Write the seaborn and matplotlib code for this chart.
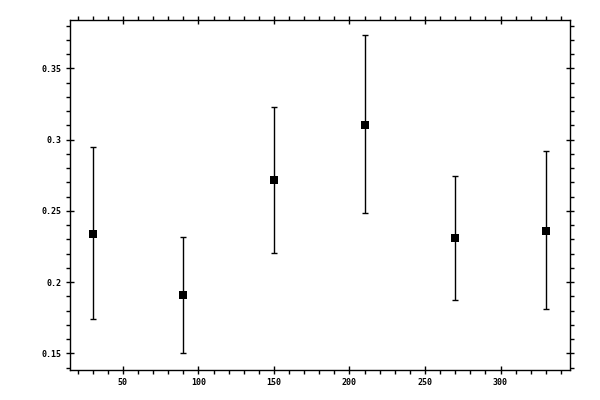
import numpy as np
import pandas as pd
import matplotlib
matplotlib.use("Agg")
import matplotlib.pyplot as plt
import matplotlib.ticker as mticker
import seaborn as sns

# values
x_vals = [30, 90, 150, 210, 270, 330]
y_vals = [0.2336, 0.1913, 0.2719, 0.3105, 0.2308, 0.2357]
y_upper = [0.2946, 0.2315, 0.3230, 0.3732, 0.2747, 0.2923]
y_lower = [0.1740, 0.1500, 0.2203, 0.2484, 0.1876, 0.1810]

df = pd.DataFrame({"x": x_vals, "y": y_vals, "hi": y_upper, "lo": y_lower})

sns.set_style("ticks")
plt.rcParams['font.family'] = ['DejaVu Sans Mono']
plt.rcParams['font.weight'] = 'bold'

fig, ax = plt.subplots(figsize=(6, 4), dpi=100)
fig.subplots_adjust(left=70/600, right=570/600, top=1 - 19.5/400, bottom=1 - 370/400)

err = [df['y'] - df['lo'], df['hi'] - df['y']]
ax.errorbar(df['x'], df['y'], yerr=err, fmt='none', ecolor='black',
            elinewidth=1, capsize=2.5, capthick=1)
sns.scatterplot(data=df, x='x', y='y', marker='s', s=30, color='black',
                edgecolor='black', linewidth=0, ax=ax, zorder=3)

ax.set_xlim(15, 346)
ax.set_ylim(0.1383, 0.3844)
ax.set_xlabel('')
ax.set_ylabel('')

ax.xaxis.set_major_locator(mticker.MultipleLocator(50))
ax.xaxis.set_minor_locator(mticker.MultipleLocator(10))
ax.yaxis.set_major_locator(mticker.MultipleLocator(0.05))
ax.yaxis.set_minor_locator(mticker.MultipleLocator(0.01))
ax.yaxis.set_major_formatter(mticker.FormatStrFormatter('%g'))

for side in ['left', 'right', 'top', 'bottom']:
    ax.spines[side].set_visible(True)
    ax.spines[side].set_linewidth(1)
    ax.spines[side].set_color('black')

ax.tick_params(which='both', top=True, right=True, labeltop=False, labelright=False,
               colors='black', width=1)
ax.tick_params(which='major', direction='inout', length=6, labelsize=6, pad=3)
ax.tick_params(which='minor', direction='out', length=2.8)

fig.savefig('out.png', dpi=100, facecolor='white')
